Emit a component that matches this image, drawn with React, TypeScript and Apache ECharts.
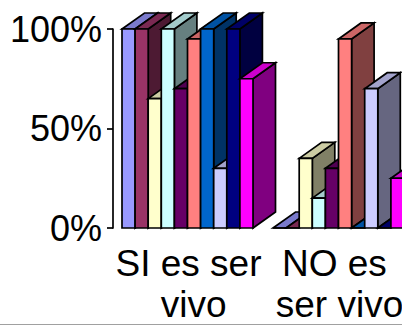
import React, { useEffect, useRef } from "react";
import * as echarts from "echarts";

const categories = ["SI es ser vivo", "NO es ser vivo"];
const yTicks = [0, 50, 100];
const barColors = ["#9999FF", "#993366", "#FFFFCC", "#CCFFFF", "#660066", "#FF8080", "#0066CC", "#CCCCFF", "#000080", "#FF00FF"];
const siValues = [100, 100, 65, 100, 70, 95, 100, 30, 100, 75];
const noValues = [0, 0, 35, 15, 30, 95, 0, 70, 0, 25];

const BAR_WIDTH = 13.1;
const GROUP_OFFSET = 9;
const DEPTH_X = 22.5;
const DEPTH_Y = 16;

function shade(hex: string, factor: number): string {
  const n = parseInt(hex.slice(1), 16);
  const channel = (shift: number) => Math.round(((n >> shift) & 255) * factor);
  return `rgb(${channel(16)},${channel(8)},${channel(0)})`;
}

// One extruded column: side and top faces first, front face over them.
function columnRenderer(barIndex: number, color: string) {
  return (_params: any, api: any) => {
    const cat = api.value(0);
    const top = api.coord([cat, api.value(1)]);
    const bottom = api.coord([cat, 0]);
    const band = api.size([1, 0])[0];
    const x0 = top[0] - band / 2 + GROUP_OFFSET + barIndex * BAR_WIDTH;
    const x1 = x0 + BAR_WIDTH;
    const yT = top[1];
    const yB = bottom[1];
    const edge = { stroke: "#000", lineWidth: 1.7, lineJoin: "miter" };
    const face = (points: number[][], fill: string) => ({
      type: "polygon",
      shape: { points },
      style: { fill, ...edge },
    });
    return {
      type: "group",
      children: [
        face([[x1, yT], [x1 + DEPTH_X, yT - DEPTH_Y], [x1 + DEPTH_X, yB - DEPTH_Y], [x1, yB]], shade(color, 0.5)),
        face([[x0, yT], [x0 + DEPTH_X, yT - DEPTH_Y], [x1 + DEPTH_X, yT - DEPTH_Y], [x1, yT]], shade(color, 0.8)),
        face([[x0, yT], [x1, yT], [x1, yB], [x0, yB]], color),
      ],
    };
  };
}

export default function App() {
  const ref = useRef<HTMLDivElement>(null);
  useEffect(() => {
    const chart = echarts.init(ref.current!, undefined, { renderer: "svg" });
    chart.setOption({
      animation: false,
      backgroundColor: "#fff",
      grid: { left: 113, top: 29, width: 302, height: 199, outerBoundsMode: "none" },
      xAxis: {
        type: "category",
        data: categories,
        axisLine: { show: false },
        axisTick: { show: false },
        axisLabel: {
          interval: 0,
          hideOverlap: false,
          color: "#000",
          fontFamily: "Liberation Sans",
          fontSize: 37,
          lineHeight: 41,
          margin: 15,
          width: 147,
          overflow: "break",
        },
      },
      yAxis: {
        type: "value",
        min: 0,
        max: 100,
        interval: 50,
        splitLine: { show: false },
        axisLine: { show: true, lineStyle: { color: "#000", width: 1.7 } },
        axisTick: { show: true, length: 6, lineStyle: { color: "#000", width: 1.7 } },
        axisLabel: {
          color: "#000",
          fontFamily: "Liberation Sans",
          fontSize: 36,
          margin: 11,
          formatter: (v: number) => (yTicks.includes(v) ? `${v}%` : ""),
        },
      },
      graphic: [
        {
          type: "line",
          shape: { x1: 0, y1: 324.5, x2: 402, y2: 324.5 },
          style: { stroke: "#a0a0a0", lineWidth: 1 },
        },
      ],
      series: barColors.map((color, i) => ({
        type: "custom",
        renderItem: columnRenderer(i, color),
        encode: { x: 0, y: 1 },
        clip: false,
        data: [
          [0, siValues[i]],
          [1, noValues[i]],
        ],
      })),
    });
    return () => chart.dispose();
  }, []);
  return (
    <div
      ref={ref}
      style={{ position: "fixed", left: 0, top: 0, width: 402, height: 325, overflow: "hidden" }}
    />
  );
}
